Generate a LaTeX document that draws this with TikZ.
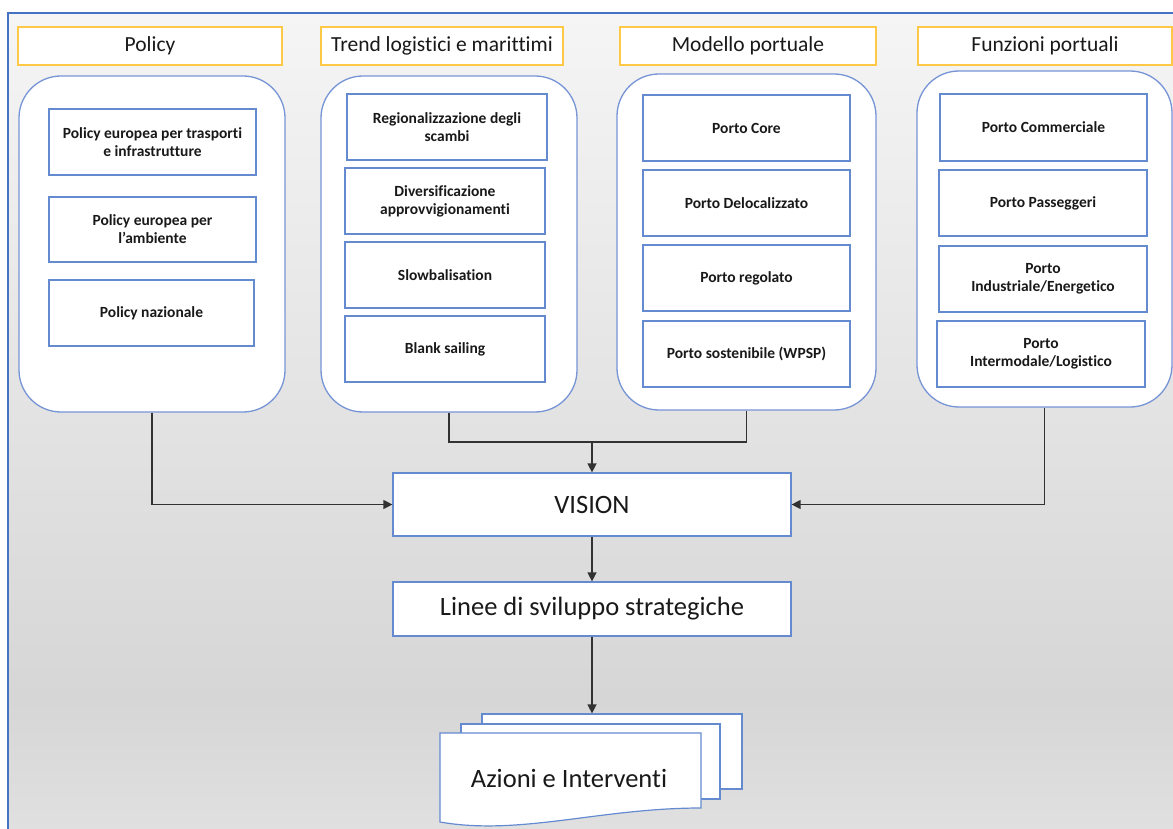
\documentclass[tikz,border=0pt]{standalone}
\usepackage{fontspec}
\setmainfont{Carlito}[Ligatures=NoCommon]
\usetikzlibrary{arrows.meta}
\definecolor{frameblue}{RGB}{68,114,196}
\definecolor{boxblue}{RGB}{100,138,208}
\definecolor{contblue}{RGB}{118,148,214}
\definecolor{titleyellow}{RGB}{255,200,70}
\definecolor{linegray}{RGB}{50,50,50}
\definecolor{textgray}{RGB}{25,25,25}
\tikzset{
  titlebox/.style={draw=titleyellow, line width=1.3pt, fill=white, minimum height=38pt, inner sep=0pt, text=textgray, font=\fontsize{21.5}{26}\selectfont},
  container/.style={draw=contblue, line width=1.3pt, fill=white, rounded corners=42pt, inner sep=0pt},
  itembox/.style={draw=boxblue, line width=1.2pt, fill=white, inner sep=0pt, align=center, text=textgray, font=\fontsize{15.5}{18}\selectfont\bfseries},
  mainbox/.style={draw=boxblue, line width=1.2pt, fill=white, inner sep=0pt, text=textgray, font=\fontsize{26.5}{30}\selectfont},
  conn/.style={draw=linegray, line width=1.3pt},
  arr/.style={conn, -{Triangle[length=9pt,width=9pt]}},
}
\begin{document}
\begin{tikzpicture}[x=1pt,y=-1pt]
\useasboundingbox (0,0) rectangle (1173,829);
% background
\fill[white] (0,0) rectangle (1173,829);
\shade[top color={rgb,255:red,245;green,245;blue,245}, bottom color={rgb,255:red,214;green,214;blue,214}] (8,13) rectangle (1173,700);
\shade[top color={rgb,255:red,214;green,214;blue,214}, bottom color={rgb,255:red,224;green,224;blue,224}] (8,700) rectangle (1173,829);
\draw[frameblue, line width=2pt] (8,829) -- (8,13) -- (1173,13);

% titles
\node[titlebox, minimum width=264pt] (tPol) at (150,46) {Policy};
\node[titlebox, minimum width=242pt] (tTr) at (442,46) {Trend logistici e marittimi};
\node[titlebox, minimum width=256pt] (tMod) at (748,46) {Modello portuale};
\node[titlebox, minimum width=254pt] (tFun) at (1045,46) {Funzioni portuali};

% containers
\node[container, minimum width=266pt, minimum height=336pt] (cPol) at (152,244) {};
\node[container, minimum width=256pt, minimum height=336pt] (cTr) at (449,244) {};
\node[container, minimum width=259pt, minimum height=336pt] (cMod) at (746.5,242) {};
\node[container, minimum width=255pt, minimum height=336pt] (cFun) at (1044.5,239) {};

% Policy items
\node[itembox, minimum width=207pt, minimum height=66pt] (p1) at (152.5,142) {Policy europea per trasporti\\e infrastrutture};
\node[itembox, minimum width=207pt, minimum height=65pt] (p2) at (152.5,229.5) {Policy europea per\\l’ambiente};
\node[itembox, minimum width=205pt, minimum height=66pt] (p3) at (151.5,313) {Policy nazionale};

% Trend items
\node[itembox, minimum width=200pt, minimum height=66pt] (t1) at (447,127) {Regionalizzazione degli\\scambi};
\node[itembox, minimum width=200pt, minimum height=66pt] (t2) at (445,201) {Diversificazione\\approvvigionamenti};
\node[itembox, minimum width=200pt, minimum height=66pt] (t3) at (445,275) {Slowbalisation};
\node[itembox, minimum width=200pt, minimum height=66pt] (t4) at (445,349) {Blank sailing};

% Modello items
\node[itembox, minimum width=207pt, minimum height=66pt] (m1) at (746.5,128) {Porto Core};
\node[itembox, minimum width=207pt, minimum height=66pt] (m2) at (746.5,203) {Porto Delocalizzato};
\node[itembox, minimum width=207pt, minimum height=66pt] (m3) at (746.5,278) {Porto regolato};
\node[itembox, minimum width=207pt, minimum height=66pt] (m4) at (746.5,354) {Porto sostenibile (WPSP)};

% Funzioni items
\node[itembox, minimum width=207pt, minimum height=67pt] (f1) at (1043.5,127.5) {Porto Commerciale};
\node[itembox, minimum width=208pt, minimum height=66pt] (f2) at (1043,203) {Porto Passeggeri};
\node[itembox, minimum width=208pt, minimum height=66pt] (f3) at (1043,279) {Porto\\Industriale/Energetico};
\node[itembox, minimum width=208pt, minimum height=66pt] (f4) at (1041,354) {Porto\\Intermodale/Logistico};

% central flow
\node[mainbox, minimum width=398pt, minimum height=63pt] (vision) at (592,504.5) {VISION};
\node[mainbox, minimum width=398pt, minimum height=54pt] (linee) at (592,609) {Linee di sviluppo strategiche};

% document stack
\node[draw=boxblue, line width=1.2pt, fill=white, minimum width=260pt, minimum height=75pt, inner sep=0pt] (docB) at (612,751.5) {};
\node[draw=boxblue, line width=1.2pt, fill=white, minimum width=259pt, minimum height=75pt, inner sep=0pt] (docM) at (590.5,761.5) {};
\draw[draw=boxblue, line width=1.2pt, fill=white] (440,733) -- (701,733) -- (701,808) .. controls (600,808) and (520,836) .. (440,822) -- cycle;
\node[font=\fontsize{26.5}{30}\selectfont, text=textgray, inner sep=0pt] (docF) at (569,778) {Azioni e Interventi};

% connectors
\coordinate (j) at (592,442);
\draw[arr] (cPol.south) |- (vision.west);
\draw[arr] (cFun.south) |- (vision.east);
\draw[conn] (cTr.south) |- (j);
\draw[conn] (cMod.south) |- (j);
\draw[arr] (j) -- (vision.north);
\draw[arr] (vision.south) -- (linee.north);
\draw[arr] (linee.south) -- (linee.south |- docB.north);
\end{tikzpicture}
\end{document}
